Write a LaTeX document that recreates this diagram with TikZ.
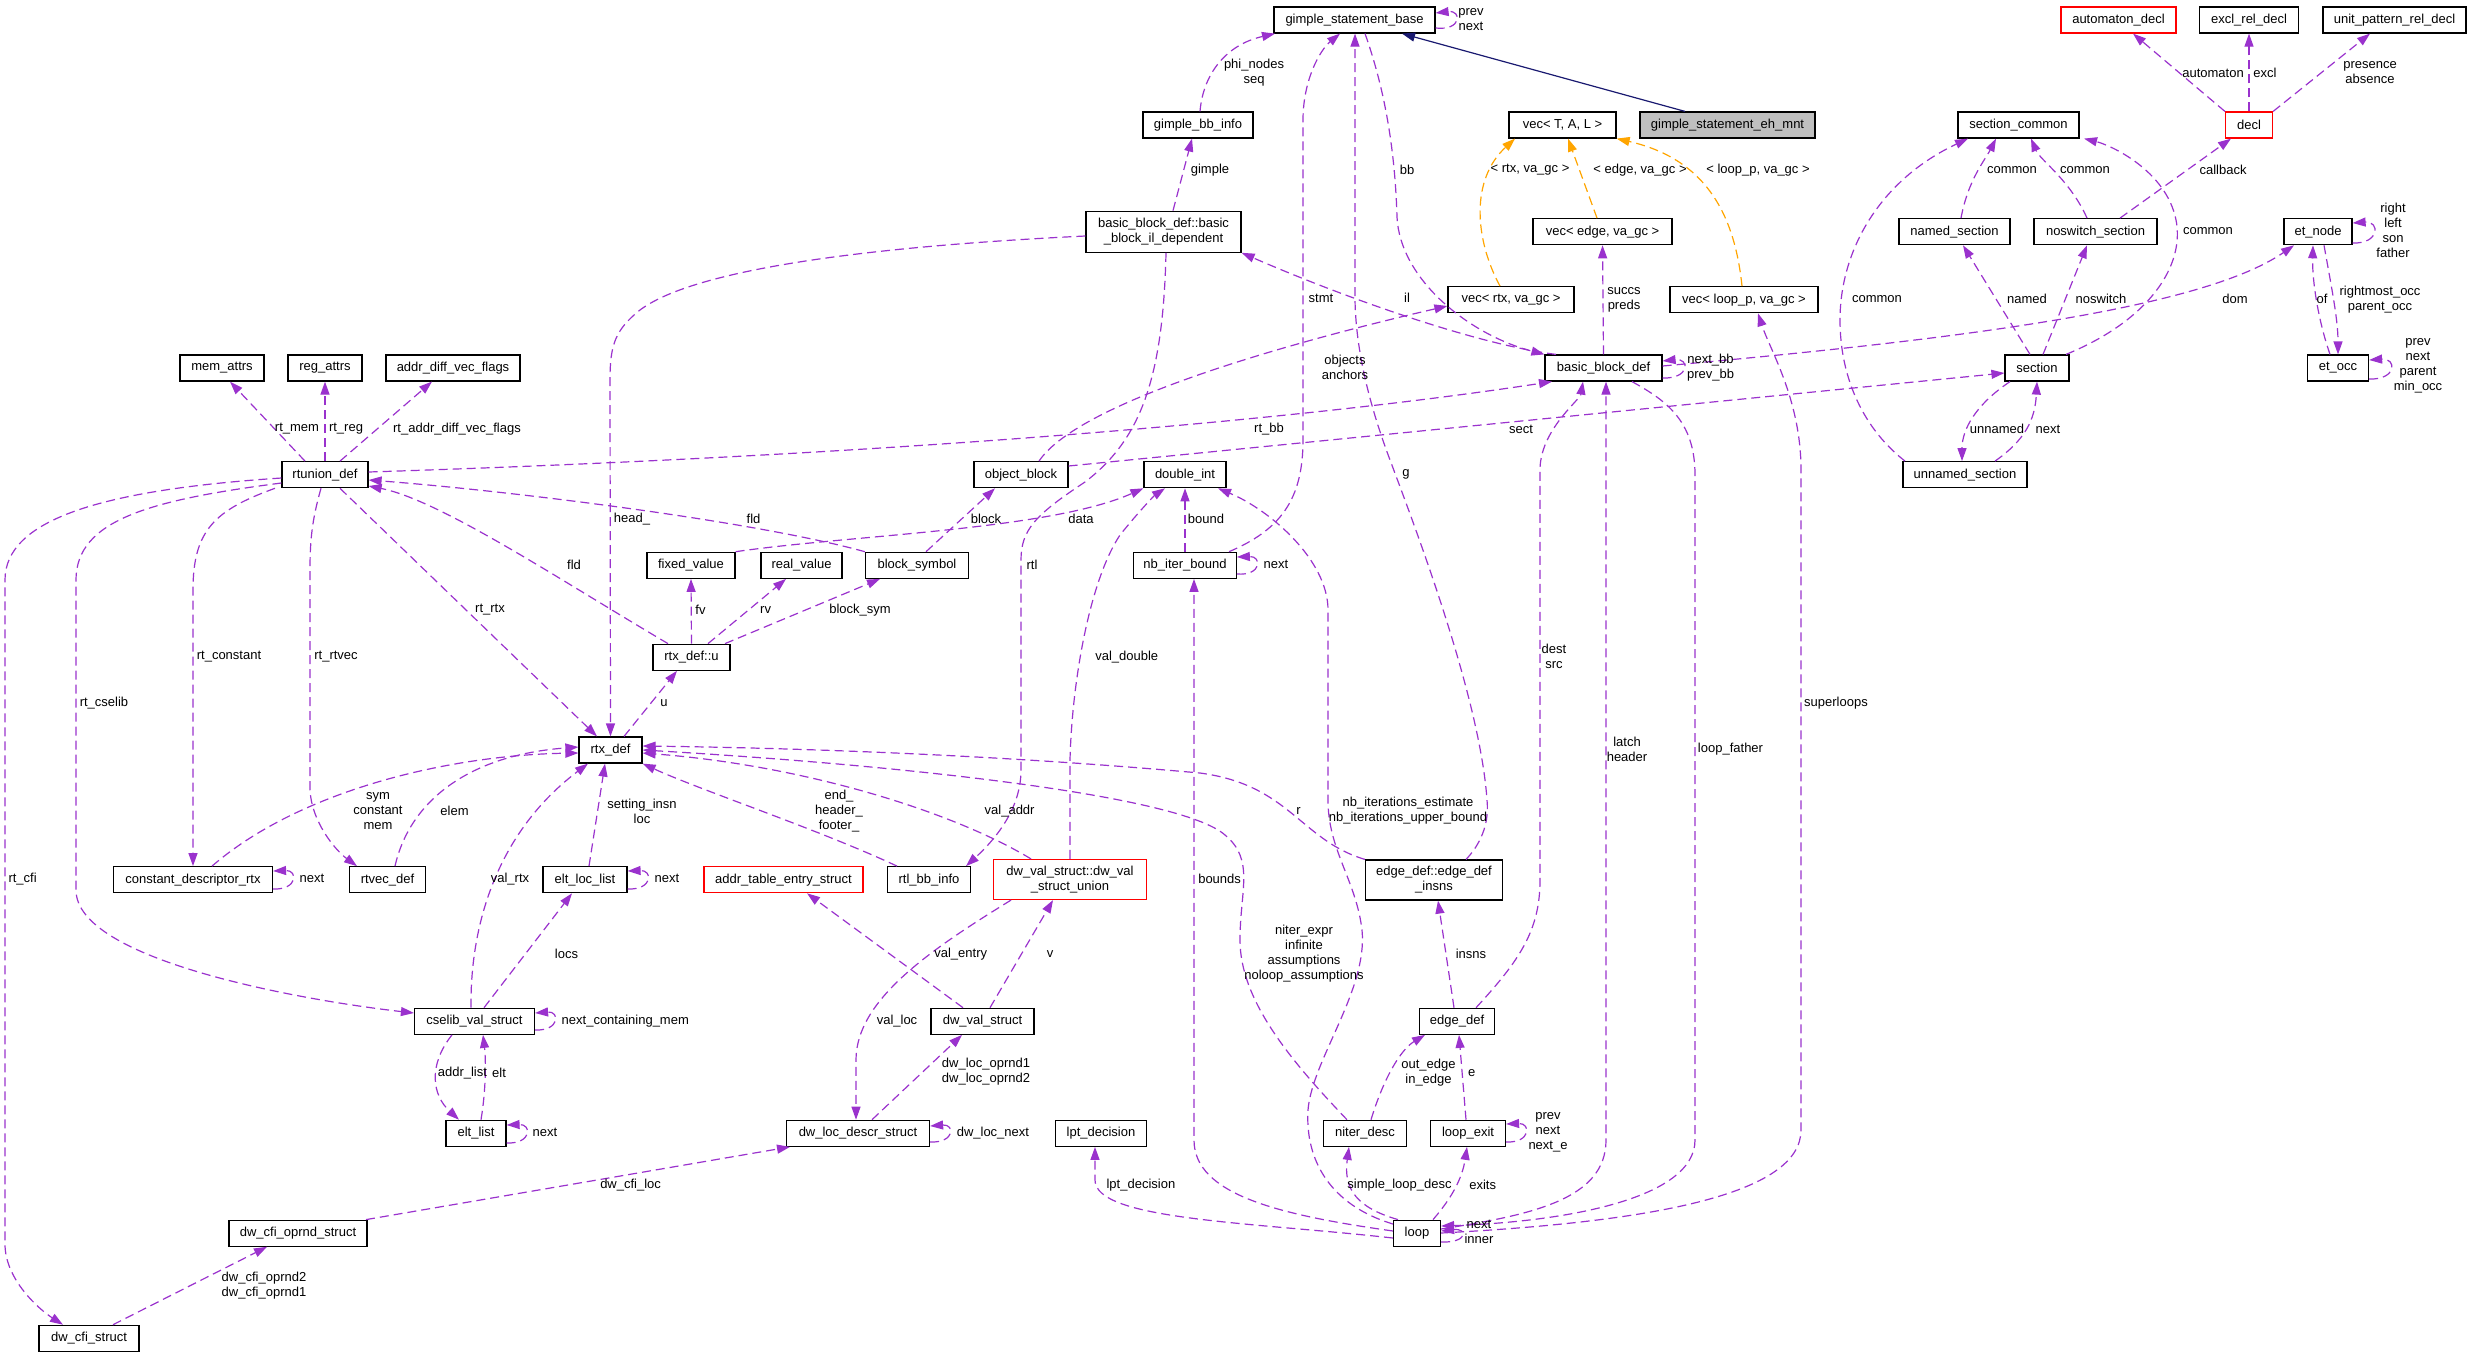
\documentclass[tikz,border=0pt]{standalone}
\usepackage{fontspec}
\setmainfont{Liberation Sans}
\usetikzlibrary{arrows.meta}
\definecolor{edgec}{HTML}{9A32CD}
\definecolor{tmplc}{HTML}{FFA500}
\definecolor{inhc}{HTML}{191970}
\definecolor{grayfill}{HTML}{BFBFBF}
\begin{document}
\begin{tikzpicture}[x=1pt,y=-1pt,font=\fontsize{13}{15}\selectfont,
  box/.style={draw=black,line width=1.2pt,fill=white,minimum height=26pt,inner sep=1pt,align=center},
  redbox/.style={box,draw=red},
  e/.style={draw=edgec,line width=1.2pt,dash pattern=on 9pt off 5pt,-{Triangle[length=13pt,width=9pt]}},
  tm/.style={e,draw=tmplc},
  inh/.style={draw=inhc,line width=1.2pt,-{Triangle[length=13pt,width=9pt]}},
  lbl/.style={inner sep=0pt,align=center}]
\useasboundingbox (0,0) rectangle (2472,1357);
% nodes
\node[box,minimum width=161pt] (gsb) at (1354.5,20) {gimple\_statement\_base};
\node[redbox,minimum width=115pt] (autd) at (2118.5,20) {automaton\_decl};
\node[box,minimum width=99pt] (excl) at (2249,20) {excl\_rel\_decl};
\node[box,minimum width=143pt] (unit) at (2394.5,20) {unit\_pattern\_rel\_decl};
\node[box,minimum width=110pt] (gbb) at (1198,125) {gimple\_bb\_info};
\node[box,minimum width=107pt] (vtal) at (1562.5,125) {vec< T, A, L >};
\node[box,fill=grayfill,minimum width=175pt] (eh) at (1727.5,125) {gimple\_statement\_eh\_mnt};
\node[box,minimum width=121pt] (secc) at (2018.5,125) {section\_common};
\node[redbox,minimum width=47pt] (decl) at (2249,125) {decl};
\node[box,minimum width=155pt,minimum height=41pt] (ild) at (1163.5,231.7) {basic\_block\_def::basic\\\_block\_il\_dependent};
\node[box,minimum width=139pt] (vedge) at (1602.5,231.7) {vec< edge, va\_gc >};
\node[box,minimum width=111pt] (nsec) at (1954.5,231.7) {named\_section};
\node[box,minimum width=123pt] (nssec) at (2095.5,231.7) {noswitch\_section};
\node[box,minimum width=68pt] (etn) at (2318,231.7) {et\_node};
\node[box,minimum width=126pt] (vrtx) at (1511,299.7) {vec< rtx, va\_gc >};
\node[box,minimum width=148pt] (vloop) at (1744,299.7) {vec< loop\_p, va\_gc >};
\node[box,minimum width=84pt] (mem) at (222,368) {mem\_attrs};
\node[box,minimum width=74pt] (reg) at (325,368) {reg\_attrs};
\node[box,minimum width=134pt] (adv) at (453,368) {addr\_diff\_vec\_flags};
\node[box,minimum width=117pt] (bbd) at (1603.5,368) {basic\_block\_def};
\node[box,minimum width=64pt] (sec) at (2037,368) {section};
\node[box,minimum width=61pt] (eto) at (2338,368) {et\_occ};
\node[box,minimum width=86pt] (rtu) at (325,474.7) {rtunion\_def};
\node[box,minimum width=94pt] (ob) at (1021,474.7) {object\_block};
\node[box,minimum width=82pt] (di) at (1185,474.7) {double\_int};
\node[box,minimum width=124pt] (unsec) at (1965,474.7) {unnamed\_section};
\node[box,minimum width=88pt] (fv) at (691,565.3) {fixed\_value};
\node[box,minimum width=81pt] (rv) at (801.5,565.3) {real\_value};
\node[box,minimum width=103pt] (bs) at (917,565.3) {block\_symbol};
\node[box,minimum width=102.5pt] (nbib) at (1185,565.3) {nb\_iter\_bound};
\node[box,minimum width=77pt] (rtxu) at (691.5,657.2) {rtx\_def::u};
\node[box,minimum width=63pt] (rtx) at (610.5,750) {rtx\_def};
\node[box,minimum width=159pt] (cdr) at (193,879.7) {constant\_descriptor\_rtx};
\node[box,minimum width=76pt] (rtvec) at (387.5,879.7) {rtvec\_def};
\node[box,minimum width=84pt] (ell) at (585,879.7) {elt\_loc\_list};
\node[redbox,minimum width=159pt] (ates) at (783.5,879.7) {addr\_table\_entry\_struct};
\node[box,minimum width=83pt] (rtlbb) at (929,879.7) {rtl\_bb\_info};
\node[redbox,minimum width=153pt,minimum height=40pt] (dvsu) at (1070,879.5) {dw\_val\_struct::dw\_val\\\_struct\_union};
\node[box,minimum width=137pt,minimum height=40pt] (edi) at (1434,880) {edge\_def::edge\_def\\\_insns};
\node[box,minimum width=120pt] (csv) at (474.5,1021.3) {cselib\_val\_struct};
\node[box,minimum width=103pt] (dvs) at (982.5,1021.3) {dw\_val\_struct};
\node[box,minimum width=75pt] (ed) at (1457,1021.3) {edge\_def};
\node[box,minimum width=60pt] (el) at (476,1133.3) {elt\_list};
\node[box,minimum width=143pt] (dlds) at (858,1133.3) {dw\_loc\_descr\_struct};
\node[box,minimum width=91pt] (lpt) at (1101,1133.3) {lpt\_decision};
\node[box,minimum width=83pt] (nd) at (1365,1133.3) {niter\_desc};
\node[box,minimum width=75pt] (lex) at (1468,1133.3) {loop\_exit};
\node[box,minimum width=138pt] (dcos) at (298,1233.2) {dw\_cfi\_oprnd\_struct};
\node[box,minimum width=47pt] (loop) at (1417,1233.2) {loop};
\node[box,minimum width=100pt] (dcs) at (89,1338.3) {dw\_cfi\_struct};
% edges
\draw[e] (gsb.east |- 0,28) .. controls (1462,31) and (1462,10) .. (gsb.east |- 0,13);
\draw[inh] (eh.north -| 1685,0) -- (gsb.south -| 1402,0);
\draw[e] (gbb.north -| 1200,0) .. controls (1203,75) and (1225,45) .. (gsb.south -| 1275,0);
\draw[e] (ild.north -| 1173,0) -- (gbb.south -| 1192,0);
\draw[e] (ild.west |- 0,236) .. controls (900,245) and (700,265) .. (640,310) .. controls (615,330) and (610,345) .. (610,380) -- (rtx.north);
\draw[e] (ild.south -| 1166,0) .. controls (1163,380) and (1140,440) .. (1085,482) .. controls (1035,515) and (1021,530) .. (1021,560) -- (1021,770) .. controls (1021,805) and (1000,835) .. (rtlbb.north -| 966,0);
\draw[e] (bbd.north -| 1556,0) .. controls (1480,345) and (1350,300) .. (ild.south east);
\draw[e] (gsb.south -| 1365,0) .. controls (1385,90) and (1395,150) .. (1397,217) .. controls (1400,280) and (1470,335) .. (bbd.north west);
\draw[e] (nbib.north -| 1229,0) .. controls (1280,530) and (1303,500) .. (1303,440) -- (1303,120) .. controls (1303,80) and (1320,50) .. (gsb.south -| 1340,0);
\draw[e] (edi.north -| 1466,0) .. controls (1475,850) and (1490,830) .. (1487,800) .. controls (1480,700) and (1420,540) .. (1390,460) .. controls (1375,420) and (1356,360) .. (1355,300) -- (gsb.south -| 1355,0);
\draw[e] (rtu.east |- 0,472) .. controls (900,455) and (1300,420) .. (bbd.south -| 1552,0);
\draw[e] (ob.east |- 0,466) -- (sec.west |- 0,373);
\draw[e] (ob.north -| 1039,0) .. controls (1080,400) and (1300,340) .. (vrtx.west |- 0,306);
\draw[e] (bs.north -| 926,0) -- (ob.south -| 995,0);
\draw[e] (fv.north east) .. controls (850,535) and (1050,530) .. (di.south west);
\draw[e] (rtxu.north -| 668,0) .. controls (560,580) and (440,500) .. (rtu.east |- 0,486);
\draw[e] (bs.north west) .. controls (750,520) and (500,490) .. (rtu.east |- 0,480);
\draw[e] (rtu.south -| 340,0) -- (rtx.north -| 597,0);
\draw[e] (rtu.south -| 275,0) .. controls (215,510) and (193,530) .. (193,590) -- (cdr.north);
\draw[e] (rtu.south -| 321,0) .. controls (312,520) and (310,540) .. (310,570) -- (310,787) .. controls (310,820) and (335,850) .. (rtvec.north -| 357,0);
\draw[e] (rtu.west |- 0,483) .. controls (150,500) and (76,520) .. (76,580) -- (76,890) .. controls (76,960) and (300,1000) .. (csv.west |- 0,1013);
\draw[e] (rtu.west |- 0,478) .. controls (100,490) and (5,520) .. (5,580) -- (5,1244) .. controls (5,1280) and (40,1310) .. (dcs.north -| 63,0);
\draw[e] (rtu.north -| 305,0) -- (mem.south -| 230,0);
\draw[e] (rtu.north) -- (reg.south);
\draw[e] (rtu.north -| 340,0) -- (adv.south -| 432,0);
\draw[e] (rtx.north -| 624,0) -- (rtxu.south -| 677,0);
\draw[e] (rtxu.north) -- (fv.south);
\draw[e] (rtxu.north -| 708,0) -- (rv.south -| 786,0);
\draw[e] (rtxu.north -| 725,0) -- (bs.south -| 880,0);
\draw[e] (cdr.north -| 212,0) .. controls (300,790) and (450,755) .. (rtx.west |- 0,753);
\draw[e] (rtvec.north -| 395,0) .. controls (410,800) and (470,755) .. (rtx.west |- 0,747);
\draw[e] (csv.north -| 471,0) .. controls (470,920) and (500,830) .. (rtx.south -| 588,0);
\draw[e] (ell.north -| 589,0) -- (rtx.south -| 605,0);
\draw[e] (rtlbb.north -| 897,0) .. controls (820,830) and (700,790) .. (rtx.south east);
\draw[e] (dvsu.north -| 1031,0) .. controls (950,810) and (800,765) .. (rtx.east |- 0,753);
\draw[e] (edi.north west) .. controls (1300,840) and (1290,785) .. (1200,773) .. controls (1000,755) and (800,748) .. (rtx.east |- 0,746);
\draw[e] (nd.north -| 1347,0) .. controls (1290,1060) and (1240,1000) .. (1240,940) .. controls (1240,890) and (1255,860) .. (1225,835) .. controls (1180,795) and (900,765) .. (rtx.east |- 0,750);
\draw[e] (loop.west |- 0,1224) .. controls (1330,1205) and (1305,1160) .. (1308,1110) .. controls (1312,1060) and (1368,990) .. (1362,930) .. controls (1356,880) and (1328,850) .. (1328,800) -- (1328,610) .. controls (1328,560) and (1270,510) .. (di.south -| 1218,0);
\draw[e] (nbib.east |- 0,574) .. controls (1262,576) and (1262,556) .. (nbib.east |- 0,557);
\draw[e] (nbib.north) -- (di.south);
\draw[e] (dvsu.north) -- (1070,760) .. controls (1072,680) and (1090,580) .. (1120,535) .. controls (1140,510) and (1155,495) .. (di.south -| 1165,0);
\draw[e] (dvs.north -| 990,0) -- (dvsu.south -| 1053,0);
\draw[e] (dvs.north -| 963,0) -- (ates.south -| 807,0);
\draw[e] (dvsu.south -| 1011,0) .. controls (930,950) and (856,1000) .. (856,1060) -- (dlds.north -| 856,0);
\draw[e] (dlds.north -| 872,0) -- (dvs.south -| 962,0);
\draw[e] (dlds.east |- 0,1142) .. controls (955,1143) and (955,1124) .. (dlds.east |- 0,1126);
\draw[e] (dcos.north -| 366,0) -- (dlds.south -| 790,0);
\draw[e] (dcs.north -| 113,0) -- (dcos.south -| 267,0);
\draw[e] (csv.east |- 0,1030) .. controls (560,1031) and (560,1011) .. (csv.east |- 0,1013);
\draw[e] (csv.north -| 484,0) -- (ell.south -| 572,0);
\draw[e] (csv.south -| 452,0) .. controls (428,1065) and (432,1095) .. (el.north -| 459,0);
\draw[e] (el.north -| 481,0) .. controls (486,1090) and (486,1060) .. (csv.south -| 483,0);
\draw[e] (el.east |- 0,1143) .. controls (532,1144) and (532,1124) .. (el.east |- 0,1125);
\draw[e] (ell.east |- 0,889) .. controls (653,890) and (653,870) .. (ell.east |- 0,871);
\draw[e] (cdr.east |- 0,889) .. controls (298,890) and (298,870) .. (cdr.east |- 0,871);
\draw[e] (loop.west |- 0,1238) .. controls (1250,1222) and (1095,1220) .. (1095,1180) -- (lpt.south -| 1095,0);
\draw[e] (loop.west |- 0,1231) .. controls (1280,1215) and (1194,1195) .. (1194,1140) -- (nbib.south -| 1194,0);
\draw[e] (loop.north -| 1398,0) .. controls (1358,1208) and (1343,1190) .. (nd.south -| 1349,0);
\draw[e] (loop.north -| 1433,0) .. controls (1450,1200) and (1462,1180) .. (lex.south -| 1467,0);
\draw[e] (loop.east |- 0,1242) .. controls (1468,1243) and (1468,1228) .. (loop.east |- 0,1231);
\draw[e] (loop.east |- 0,1229) .. controls (1530,1215) and (1606,1200) .. (1606,1140) -- (bbd.south -| 1606,0);
\draw[e] (loop.east |- 0,1233) .. controls (1650,1222) and (1801,1195) .. (1801,1130) -- (1801,470) .. controls (1801,400) and (1770,350) .. (vloop.south -| 1758,0);
\draw[e] (bbd.south -| 1632,0) .. controls (1665,400) and (1695,420) .. (1695,475) -- (1695,1140) .. controls (1695,1200) and (1560,1222) .. (loop.east |- 0,1226);
\draw[e] (ed.north -| 1476,0) .. controls (1520,960) and (1540,930) .. (1540,880) -- (1540,470) .. controls (1540,430) and (1580,400) .. (bbd.south -| 1583,0);
\draw[e] (ed.north -| 1454,0) -- (edi.south -| 1438,0);
\draw[e] (nd.north -| 1371,0) .. controls (1383,1080) and (1400,1050) .. (ed.south -| 1425,0);
\draw[e] (lex.north -| 1466,0) -- (ed.south -| 1459,0);
\draw[e] (lex.east |- 0,1142) .. controls (1531,1143) and (1531,1123) .. (lex.east |- 0,1124);
\draw[e] (bbd.east |- 0,378) .. controls (1690,379) and (1690,358) .. (bbd.east |- 0,361);
\draw[e] (bbd.east |- 0,366) .. controls (1950,340) and (2200,310) .. (etn.south -| 2294,0);
\draw[e] (bbd.north) -- (vedge.south);
\draw[tm] (vrtx.north -| 1500,0) .. controls (1475,240) and (1470,180) .. (vtal.south -| 1515,0);
\draw[tm] (vedge.north -| 1597,0) -- (vtal.south -| 1568,0);
\draw[tm] (vloop.north -| 1742,0) .. controls (1735,220) and (1710,160) .. (vtal.south east);
\draw[e] (decl.north west) -- (autd.south -| 2133,0);
\draw[e] (decl.north) -- (excl.south);
\draw[e] (decl.north east) -- (unit.south -| 2370,0);
\draw[e] (nssec.north -| 2120,0) -- (decl.south -| 2231,0);
\draw[e] (nsec.north -| 1961,0) .. controls (1968,180) and (1985,160) .. (secc.south -| 1996,0);
\draw[e] (nssec.north -| 2087,0) .. controls (2070,180) and (2040,160) .. (secc.south -| 2031,0);
\draw[e] (sec.north -| 2066,0) .. controls (2150,320) and (2185,265) .. (2176,220) .. controls (2166,170) and (2110,145) .. (secc.south -| 2084,0);
\draw[e] (unsec.north -| 1905,0) .. controls (1865,430) and (1840,380) .. (1840,320) .. controls (1840,250) and (1880,180) .. (secc.south -| 1968,0);
\draw[e] (sec.north -| 2030,0) -- (nsec.south -| 1963,0);
\draw[e] (sec.north -| 2043,0) -- (nssec.south -| 2087,0);
\draw[e] (sec.south -| 2010,0) .. controls (1975,405) and (1962,430) .. (unsec.north -| 1962,0);
\draw[e] (unsec.north -| 1995,0) .. controls (2025,440) and (2035,420) .. (sec.south -| 2037,0);
\draw[e] (etn.east |- 0,243) .. controls (2380,244) and (2380,221) .. (etn.east |- 0,223);
\draw[e] (etn.south -| 2324,0) .. controls (2332,290) and (2338,320) .. (eto.north -| 2338,0);
\draw[e] (eto.north -| 2330,0) .. controls (2318,320) and (2312,280) .. (etn.south -| 2313,0);
\draw[e] (eto.east |- 0,379) .. controls (2397,380) and (2397,358) .. (eto.east |- 0,360);
% labels
\node[lbl] (l1) at (1471,19.5) {prev\\next};
\node[lbl] (l2) at (1254,72.5) {phi\_nodes\\seq};
\node[lbl] (l3) at (1210,170) {gimple};
\node[lbl] (l4) at (1407,170) {bb};
\node[lbl] (l5) at (1321,298) {stmt};
\node[lbl] (l6) at (1407,298) {il};
\node[lbl] (l7) at (1345,367.5) {objects\\anchors};
\node[lbl] (l8) at (1269,429) {rt\_bb};
\node[lbl] (l9) at (1521,429) {sect};
\node[lbl] (l10) at (1624,299.5) {succs\\preds};
\node[lbl] (l11) at (1530,170) {< rtx, va\_gc >};
\node[lbl] (l12) at (1640,170) {< edge, va\_gc >};
\node[lbl] (l13) at (1758,170) {< loop\_p, va\_gc >};
\node[lbl] (l14) at (2213,73) {automaton};
\node[lbl] (l15) at (2265,73) {excl};
\node[lbl] (l16) at (2370,72.5) {presence\\absence};
\node[lbl] (l17) at (2012,170) {common};
\node[lbl] (l18) at (2085,170) {common};
\node[lbl] (l19) at (2223,170) {callback};
\node[lbl] (l20) at (2208,231) {common};
\node[lbl] (l21) at (1877,299) {common};
\node[lbl] (l22) at (2027,299) {named};
\node[lbl] (l23) at (2101,299) {noswitch};
\node[lbl] (l24) at (2235,299) {dom};
\node[lbl] (l25) at (2322,299) {of};
\node[lbl] (l26) at (2380,299.5) {rightmost\_occ\\parent\_occ};
\node[lbl] (l27) at (2393,230) {right\\left\\son\\father};
\node[lbl] (l28) at (2418,366) {prev\\next\\parent\\min\_occ};
\node[lbl] (l29) at (1710.5,367.5) {next\_bb\\prev\_bb};
\node[lbl] (l30) at (1997,429) {unnamed};
\node[lbl] (l31) at (2048,429) {next};
\node[lbl] (l32) at (297,429) {rt\_mem};
\node[lbl] (l33) at (346,429) {rt\_reg};
\node[lbl] (l34) at (457,429) {rt\_addr\_diff\_vec\_flags};
\node[lbl] (l35) at (632,519) {head\_};
\node[lbl] (l36) at (753.5,519) {fld};
\node[lbl] (l37) at (574,564.7) {fld};
\node[lbl] (l38) at (986,519) {block};
\node[lbl] (l39) at (1081,519) {data};
\node[lbl] (l40) at (1206,519) {bound};
\node[lbl] (l41) at (1032,564.7) {rtl};
\node[lbl] (l42) at (1276,564.7) {next};
\node[lbl] (l43) at (490,610) {rt\_rtx};
\node[lbl] (l44) at (700.5,610) {fv};
\node[lbl] (l45) at (765.6,610) {rv};
\node[lbl] (l46) at (860,610) {block\_sym};
\node[lbl] (l47) at (229,656.7) {rt\_constant};
\node[lbl] (l48) at (336,656.7) {rt\_rtvec};
\node[lbl] (l49) at (1126.7,656.7) {val\_double};
\node[lbl] (l50) at (104,702.7) {rt\_cselib};
\node[lbl] (l51) at (664,703) {u};
\node[lbl] (l52) at (1836,702.7) {superloops};
\node[lbl] (l53) at (1406,474.3) {g};
\node[lbl] (l54) at (1554,656.5) {dest\\src};
\node[lbl] (l55) at (1627,749.7) {latch\\header};
\node[lbl] (l56) at (1730.5,749.3) {loop\_father};
\node[lbl] (l57) at (378,811) {sym\\constant\\mem};
\node[lbl] (l58) at (454.5,810.7) {elem};
\node[lbl] (l59) at (642,811.3) {setting\_insn\\loc};
\node[lbl] (l60) at (839,811) {end\_\\header\_\\footer\_};
\node[lbl] (l61) at (1009.6,810.7) {val\_addr};
\node[lbl] (l62) at (1298.5,810.7) {r};
\node[lbl] (l63) at (1408,811) {nb\_iterations\_estimate\\nb\_iterations\_upper\_bound};
\node[lbl] (l64) at (312,878.7) {next};
\node[lbl] (l65) at (510,878.7) {val\_rtx};
\node[lbl] (l66) at (667,878.7) {next};
\node[lbl] (l67) at (22.6,878.7) {rt\_cfi};
\node[lbl] (l68) at (1219.6,879) {bounds};
\node[lbl] (l69) at (1304,953.7) {niter\_expr\\infinite\\assumptions\\noloop\_assumptions};
\node[lbl] (l70) at (566.5,953.7) {locs};
\node[lbl] (l71) at (960.7,954) {val\_entry};
\node[lbl] (l72) at (1050,954) {v};
\node[lbl] (l73) at (1471,953.5) {insns};
\node[lbl] (l74) at (625.3,1021) {next\_containing\_mem};
\node[lbl] (l75) at (897,1020.7) {val\_loc};
\node[lbl] (l76) at (462.4,1072.7) {addr\_list};
\node[lbl] (l77) at (499,1072.7) {elt};
\node[lbl] (l78) at (986,1072) {dw\_loc\_oprnd1\\dw\_loc\_oprnd2};
\node[lbl] (l79) at (1428.5,1072.2) {out\_edge\\in\_edge};
\node[lbl] (l80) at (1471.6,1072.7) {e};
\node[lbl] (l81) at (545,1132.7) {next};
\node[lbl] (l82) at (992.9,1132.7) {dw\_loc\_next};
\node[lbl] (l83) at (1548,1132.5) {prev\\next\\next\_e};
\node[lbl] (l84) at (630.6,1185.3) {dw\_cfi\_loc};
\node[lbl] (l85) at (1140.9,1185.3) {lpt\_decision};
\node[lbl] (l86) at (1399.5,1185.3) {simple\_loop\_desc};
\node[lbl] (l87) at (1482.7,1185.3) {exits};
\node[lbl] (l88) at (1479,1232) {next\\inner};
\node[lbl] (l89) at (264,1285.3) {dw\_cfi\_oprnd2\\dw\_cfi\_oprnd1};
\end{tikzpicture}
\end{document}
